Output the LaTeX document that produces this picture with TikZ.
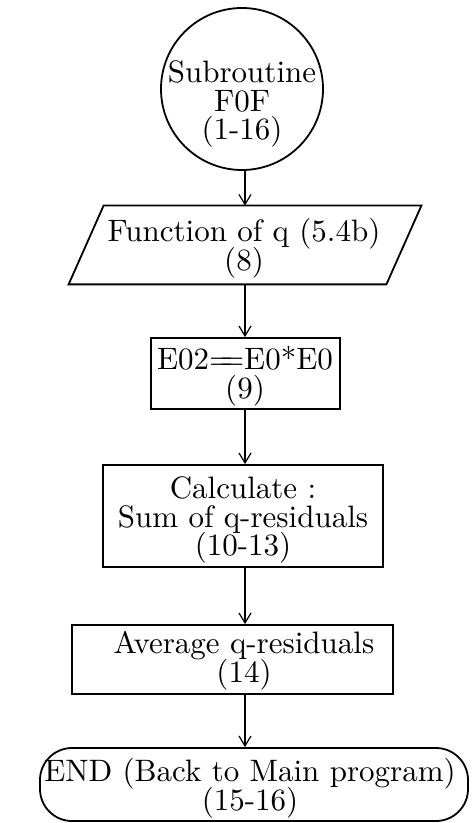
\documentclass[tikz,border=0pt]{standalone}
\usetikzlibrary{arrows.meta}
\newcommand\fl[1]{\scalebox{1.55}{\fontsize{10}{9.2}\selectfont\lineskiplimit=-10pt\relax
  \vbox{\halign{\hfil##\hfil\cr#1\crcr}}}}
\begin{document}
\begin{tikzpicture}[x=0.5pt,y=-0.5pt,
  txt/.style={inner sep=0pt},
  shp/.style={draw,line width=0.9pt,inner sep=0pt},
  box/.style={shp,rectangle},
  arr/.style={-{Straight Barb[length=5pt,width=6pt]},line width=0.6pt}
]
\useasboundingbox (0,0) rectangle (473,823);
\coordinate (ax) at (245,0);

% shapes
\node[shp,circle,minimum size=81pt] (c) at (242,89) {};
\node[inner sep=0pt,minimum width=176pt,minimum height=39pt] (p) at (245,245) {};
\draw[line width=0.9pt,line join=miter] (p.south west) -- ([xshift=17.5pt]p.north west)
   -- (p.north east) -- ([xshift=-17.5pt]p.south east) -- cycle;
\node[box,minimum width=94.5pt,minimum height=35.5pt] (e) at (245.5,373.5) {};
\node[box,minimum width=140pt,minimum height=51pt] (k) at (243,516) {};
\node[box,minimum width=160.5pt,minimum height=34.5pt] (a) at (232.5,659.5) {};
\node[box,rounded corners=16pt,minimum width=214pt,minimum height=36.5pt] (z) at (254,784.5) {};

% texts
\node[txt] (ct) at (242,104) {\fl{Subroutine\cr F0F\cr (1-16)}};
\node[txt] (pt) at (244,248) {\fl{Function of q (5.4b)\cr (8)}};
\node[txt] (et) at (245,376) {\fl{E02=\kern-4.3pt=E0*E0\cr (9)}};
\node[txt] (kt) at (243,520) {\fl{Calculate :\cr Sum of q-residuals\cr (10-13)}};
\node[txt] (at) at (244,661) {\fl{Average q-residuals\cr (14)}};
\node[txt] (zt) at (250,788) {\fl{END (Back to Main program)\cr (15-16)}};

% connectors
\draw[arr] (ax |- c.south) -- (ax |- p.north);
\draw[arr] (ax |- p.south) -- (ax |- e.north);
\draw[arr] (ax |- e.south) -- (ax |- k.north);
\draw[arr] (ax |- k.south) -- (ax |- a.north);
\draw[arr] (ax |- a.south) -- (ax |- z.north);
\end{tikzpicture}
\end{document}
